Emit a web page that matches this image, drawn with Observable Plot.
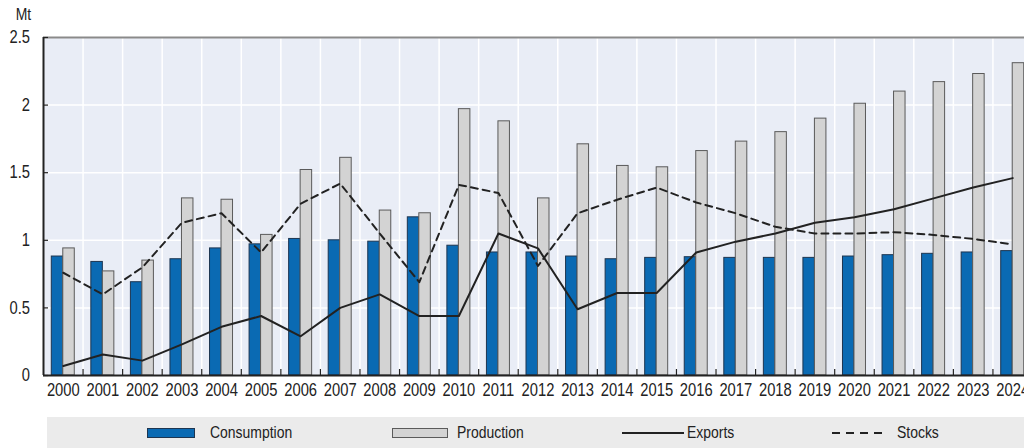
<!DOCTYPE html>
<html>
<head>
<meta charset="utf-8">
<script src="https://cdn.jsdelivr.net/npm/d3@7"></script>
<script src="https://cdn.jsdelivr.net/npm/@observablehq/plot@0.6"></script>
<style>
  html, body { margin: 0; padding: 0; background: #fff; width: 1024px; height: 448px; overflow: hidden; }
  #chart { position: absolute; left: 0; top: 0; width: 1032px; }
  #chart svg { max-width: none !important; }
  #legend { position: absolute; left: 47px; top: 417px; width: 1000px; height: 31px; background: #ebebeb;
            font-family: "Liberation Sans", Arial, sans-serif; font-size: 17px; color: #222; }
  #legend .item { position: absolute; top: 0; height: 31px; display: flex; align-items: center; }
  #legend svg { display: block; }
  #legend span { display: inline-block; transform: scaleX(0.82); transform-origin: left center; white-space: nowrap; }
</style>
</head>
<body>
<div id="chart"></div>
<div id="legend"></div>
<script>
// Years on the category axis
const years = ["2000","2001","2002","2003","2004","2005","2006","2007","2008","2009","2010","2011","2012",
               "2013","2014","2015","2016","2017","2018","2019","2020","2021","2022","2023","2024"];

// Series, million tonnes
const consumption = [0.88,0.84,0.69,0.86,0.94,0.97,1.01,1.00,0.99,1.17,0.96,0.91,0.91,
                     0.88,0.86,0.87,0.875,0.87,0.87,0.87,0.88,0.89,0.90,0.91,0.92];
const production  = [0.94,0.77,0.85,1.31,1.30,1.04,1.52,1.61,1.22,1.20,1.97,1.88,1.31,
                     1.71,1.55,1.54,1.66,1.73,1.80,1.90,2.01,2.10,2.17,2.23,2.31];
const exportsMt   = [0.07,0.155,0.11,0.23,0.36,0.44,0.29,0.50,0.60,0.44,0.44,1.05,0.94,
                     0.49,0.61,0.61,0.91,0.99,1.05,1.13,1.17,1.23,1.31,1.39,1.46];
const stocks      = [0.76,0.60,0.80,1.13,1.20,0.91,1.27,1.42,1.05,0.69,1.41,1.35,0.81,
                     1.20,1.30,1.39,1.28,1.20,1.10,1.05,1.05,1.06,1.04,1.01,0.97];

// Value axis ticks and unit
const yTicks = [0, 0.5, 1, 1.5, 2, 2.5];
const unitLabel = "Mt";

// Legend entries
const legendLabels = ["Consumption", "Production", "Exports", "Stocks"];

const rows = years.map((year, i) => ({
  year,
  consumption: consumption[i],
  production: production[i],
  exports: exportsMt[i],
  stocks: stocks[i]
}));

const font = '"Liberation Sans", Arial, sans-serif';
const W = 1032, H = 400, ML = 43, MR = 0, MT = 37, MB = 25;
const bw = (W - ML - MR) / years.length;   // width of one year band
const barW = 11.5;                          // width of each bar in a pair
const plotH = H - MT - MB;
const blue = "#0a6ab3", grey = "#d3d3d3", ink = "#222";

const chart = Plot.plot({
  width: W, height: H,
  marginLeft: ML, marginRight: MR, marginTop: MT, marginBottom: MB,
  style: { fontFamily: font, fontSize: "18px", color: ink, background: "transparent", overflow: "visible" },
  x: { type: "band", domain: years, padding: 0, round: false, label: null },
  y: { domain: [0, 2.5], label: null },
  marks: [
    Plot.frame({ fill: "#e9edf6", stroke: null }),
    // white grid: horizontal at each tick, vertical between years
    Plot.ruleY(yTicks, { stroke: "#fff", strokeWidth: 1.5 }),
    Plot.ruleX(years.slice(1), { x: d => d, dx: -bw / 2, stroke: "#fff", strokeWidth: 1.5 }),
    // paired bars
    Plot.barY(rows, { x: "year", y: "consumption", fill: blue, stroke: "#1d3550", strokeWidth: 1,
                      insetLeft: bw / 2 - barW, insetRight: bw / 2 }),
    Plot.barY(rows, { x: "year", y: "production", fill: grey, stroke: "#5a5a5a", strokeWidth: 1,
                      insetLeft: bw / 2, insetRight: bw / 2 - barW }),
    // lines
    Plot.line(rows, { x: "year", y: "exports", stroke: ink, strokeWidth: 2 }),
    Plot.line(rows, { x: "year", y: "stocks", stroke: ink, strokeWidth: 2, strokeDasharray: "7,5" }),
    // frame lines
    Plot.ruleY([2.5], { stroke: "#8a8a8a", strokeWidth: 2 }),
    Plot.ruleY([0], { stroke: ink, strokeWidth: 2 }),
    Plot.ruleX([years[0]], { x: d => d, dx: -bw / 2, stroke: ink, strokeWidth: 2 }),
    // small inside ticks
    Plot.tickY(yTicks, { y: d => d, stroke: ink, strokeWidth: 1.2, insetRight: (W - ML - MR) - 5 }),
    Plot.tickX(years.slice(1), { x: d => d, dx: -bw / 2, stroke: ink, strokeWidth: 1.2, insetTop: plotH - 6 }),
    // axes labels
    Plot.axisX({ tickSize: 0, tickPadding: 8, fill: ink }),
    Plot.axisY({ ticks: yTicks, tickSize: 0, tickPadding: 13.5, tickFormat: d => String(d), fill: ink }),
    Plot.text([unitLabel], { frameAnchor: "top-left", textAnchor: "middle", lineAnchor: "middle",
                             dx: -20, dy: -23, fontSize: 17, fill: ink })
  ]
});
// narrow the lettering horizontally (condensed sans look)
chart.querySelectorAll("text").forEach(t => {
  const tr = t.getAttribute("transform") || "";
  t.setAttribute("transform", (tr + " scale(0.82,1)").trim());
});
chart.style.maxWidth = "none";
chart.style.width = W + "px";
chart.style.height = H + "px";
document.getElementById("chart").appendChild(chart);

// Legend strip below the plot
const legend = d3.select("#legend");
const legendLayout = [
  { left: 100, swatch: "rect", w: 48, fill: blue, stroke: "#1d3550", gap: 15 },
  { left: 345, swatch: "rect", w: 56, fill: grey, stroke: "#5a5a5a", gap: 9 },
  { left: 575, swatch: "line", w: 62, dash: null, gap: 3 },
  { left: 785, swatch: "line", w: 51, dash: "8,6", gap: 14 }
];
legendLabels.forEach((label, i) => {
  const L = legendLayout[i];
  const item = legend.append("div").attr("class", "item").style("left", L.left + "px");
  const svg = item.append("svg").attr("width", L.w).attr("height", 12).style("margin-right", L.gap + "px");
  if (L.swatch === "rect") {
    svg.append("rect").attr("x", 0.5).attr("y", 1.5).attr("width", L.w - 1).attr("height", 9)
      .attr("fill", L.fill).attr("stroke", L.stroke);
  } else {
    svg.append("line").attr("x1", 0).attr("x2", L.w).attr("y1", 6).attr("y2", 6)
      .attr("stroke", ink).attr("stroke-width", 2).attr("stroke-dasharray", L.dash);
  }
  item.append("span").text(label);
});
</script>
</body>
</html>
